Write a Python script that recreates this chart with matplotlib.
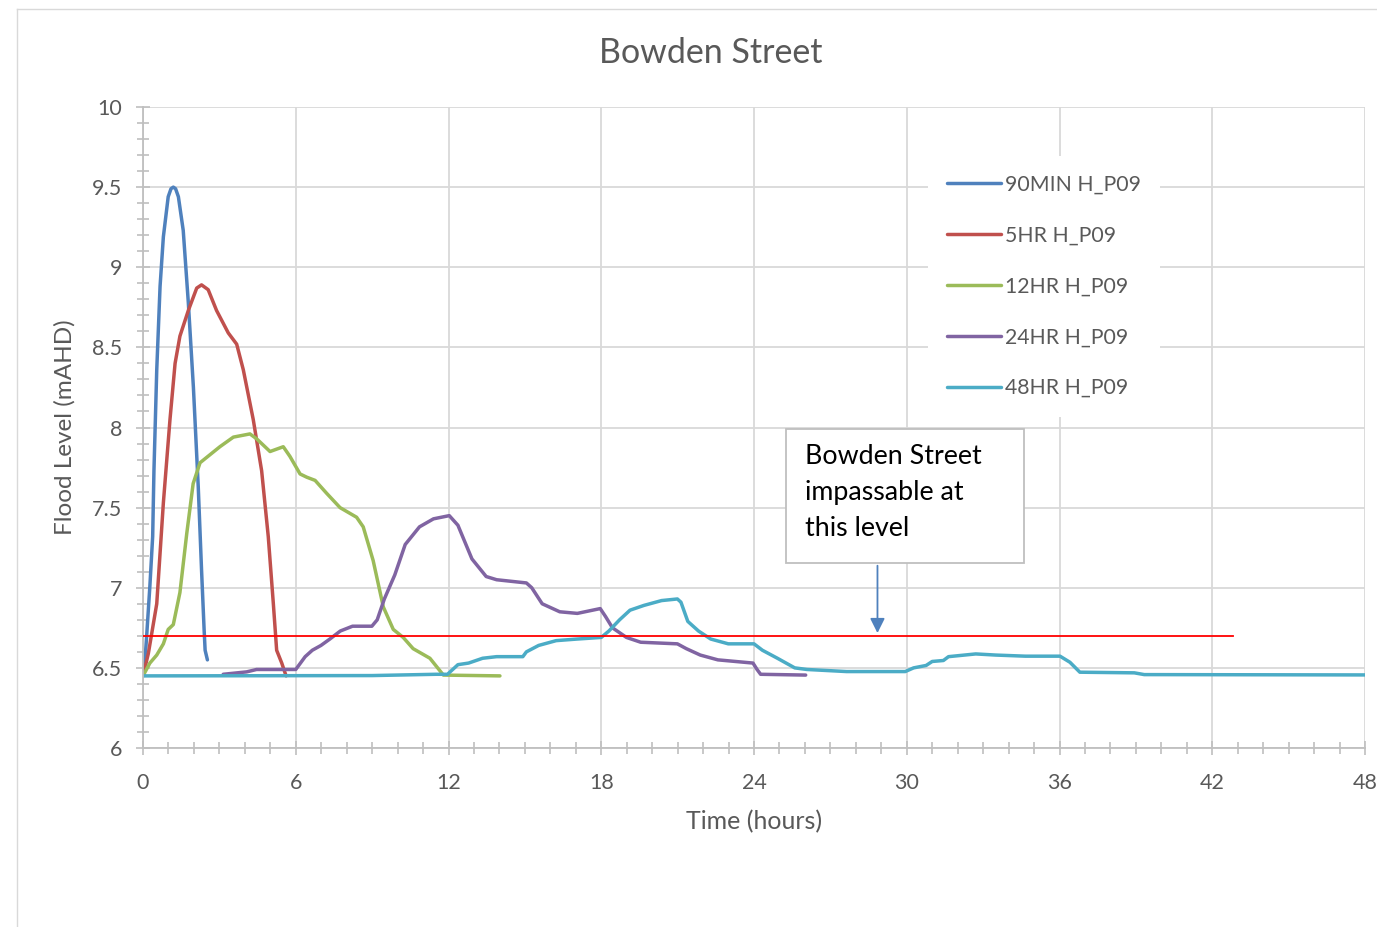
import matplotlib
matplotlib.use("Agg")
import matplotlib.pyplot as plt
from matplotlib.ticker import MultipleLocator, FuncFormatter
from matplotlib.patches import Rectangle
from matplotlib.lines import Line2D

plt.rcParams['font.family'] = ['Lato', 'DejaVu Sans']

# --- data (time in hours, level in mAHD) ---
t_90min = [0, 0.04, 0.14, 0.27, 0.38, 0.43, 0.54, 0.67, 0.80, 0.99, 1.10, 1.19, 1.28, 1.39,
           1.58, 1.78, 1.98, 2.17, 2.30, 2.40, 2.44, 2.53]
h_90min = [6.45, 6.46, 6.69, 7.01, 7.32, 7.73, 8.36, 8.88, 9.19, 9.44, 9.49, 9.50, 9.49, 9.44,
           9.23, 8.78, 8.25, 7.63, 7.11, 6.74, 6.61, 6.55]

t_5hr = [0, 0.21, 0.54, 0.80, 1.06, 1.26, 1.45, 1.78, 2.11, 2.30, 2.56, 2.89, 3.35, 3.68,
         3.94, 4.33, 4.66, 4.92, 5.12, 5.25, 5.45, 5.62]
h_5hr = [6.45, 6.59, 6.90, 7.53, 8.05, 8.40, 8.57, 8.73, 8.87, 8.89, 8.86, 8.73, 8.59, 8.52,
         8.36, 8.05, 7.73, 7.32, 6.90, 6.61, 6.53, 6.45]

t_12hr = [0, 0.27, 0.54, 0.80, 0.99, 1.19, 1.45, 1.72, 1.97, 2.24, 2.63, 3.02, 3.55, 4.20,
          4.46, 4.99, 5.51, 5.77, 6.17, 6.43, 6.76, 7.21, 7.74, 8.39, 8.65, 9.04, 9.44,
          9.83, 10.22, 10.61, 11.27, 11.80, 14.02]
h_12hr = [6.45, 6.53, 6.58, 6.65, 6.74, 6.77, 6.97, 7.34, 7.65, 7.78, 7.83, 7.88, 7.94, 7.96,
          7.93, 7.85, 7.88, 7.82, 7.71, 7.69, 7.67, 7.59, 7.50, 7.44, 7.38, 7.17, 6.88,
          6.74, 6.69, 6.62, 6.56, 6.455, 6.45]

t_24hr = [3.15, 4.07, 4.46, 6.0, 6.37, 6.65, 6.99, 7.34, 7.75, 8.23, 8.99, 9.20, 9.48, 9.89,
          10.30, 10.86, 11.41, 12.03, 12.37, 12.92, 13.48, 13.89, 15.06, 15.27, 15.68, 16.37,
          17.06, 17.96, 18.17, 18.44, 18.99, 19.55, 20.99, 21.34, 21.89, 22.58, 23.27, 23.96,
          24.12, 24.26, 26.03]
h_24hr = [6.46, 6.475, 6.49, 6.49, 6.57, 6.61, 6.64, 6.68, 6.73, 6.76, 6.76, 6.80, 6.93, 7.08,
          7.27, 7.38, 7.43, 7.45, 7.39, 7.18, 7.07, 7.05, 7.03, 7.00, 6.90, 6.85,
          6.84, 6.87, 6.82, 6.75, 6.69, 6.66, 6.65, 6.62, 6.58, 6.55, 6.54, 6.53,
          6.49, 6.46, 6.455]

t_48hr = [0, 9.0, 11.5, 11.96, 12.37, 12.79, 13.34, 13.89, 14.92, 15.06, 15.54, 16.23, 17.06,
          18.0, 18.3, 18.72, 19.13, 19.68, 20.37, 20.99, 21.13, 21.40, 21.82, 22.30, 22.99,
          24.0, 24.33, 24.92, 25.6, 26.08, 27.64, 29.94, 30.27, 30.76, 31.0, 31.44, 31.64,
          32.71, 33.49, 34.66, 36.02, 36.41, 36.80, 38.94, 39.33, 48.0]
h_48hr = [6.45, 6.452, 6.46, 6.46, 6.52, 6.53, 6.56, 6.57, 6.57, 6.60, 6.64, 6.67, 6.68,
          6.69, 6.73, 6.80, 6.86, 6.89, 6.92, 6.93, 6.91, 6.79, 6.73, 6.68, 6.65,
          6.65, 6.61, 6.56, 6.50, 6.49, 6.477, 6.477, 6.50, 6.515, 6.54, 6.546, 6.57,
          6.587, 6.58, 6.573, 6.573, 6.535, 6.473, 6.469, 6.458, 6.456]

impassable_t = [0, 42.8]
impassable_h = [6.7, 6.7]

series = [
    ("90MIN H_P09", t_90min, h_90min, "#4F81BD"),
    ("5HR H_P09", t_5hr, h_5hr, "#C0504D"),
    ("12HR H_P09", t_12hr, h_12hr, "#9BBB59"),
    ("24HR H_P09", t_24hr, h_24hr, "#8064A2"),
    ("48HR H_P09", t_48hr, h_48hr, "#4BACC6"),
]

grey_txt = "#595959"
grid_col = "#d9d9d9"

fig = plt.figure(figsize=(13.77, 9.27), dpi=100)
ax = fig.add_axes([143 / 1377, 1 - 748 / 927, 1222 / 1377, 641 / 927])

# outer chart border
fig.add_artist(Line2D([17 / 1377, 17 / 1377], [0, 1 - 9 / 927], transform=fig.transFigure,
                      color="#d9d9d9", lw=1))
fig.add_artist(Line2D([17 / 1377, 1], [1 - 9 / 927, 1 - 9 / 927], transform=fig.transFigure,
                      color="#d9d9d9", lw=1))

for name, t, h, c in series:
    ax.plot(t, h, color=c, lw=2.5, label=name, solid_capstyle='round', solid_joinstyle='round')

ax.plot(impassable_t, impassable_h, color="#FF0000", lw=1.3, zorder=3)

ax.set_xlim(0, 48)
ax.set_ylim(6, 10)
ax.xaxis.set_major_locator(MultipleLocator(6))
ax.xaxis.set_minor_locator(MultipleLocator(1))
ax.yaxis.set_major_locator(MultipleLocator(0.5))
ax.yaxis.set_minor_locator(MultipleLocator(0.1))
ax.yaxis.set_major_formatter(FuncFormatter(lambda v, p: f"{v:g}"))

ax.grid(True, which='major', color=grid_col, lw=1.3)
ax.set_axisbelow(True)
for s in ['top', 'right']:
    ax.spines[s].set_visible(False)
for s in ['left', 'bottom']:
    ax.spines[s].set_color("#bfbfbf")
    ax.spines[s].set_linewidth(1.3)

ax.tick_params(which='both', direction='inout', color="#bfbfbf", width=1.2, labelcolor=grey_txt,
               labelsize=15.5)
ax.tick_params(which='major', length=10)
ax.tick_params(which='minor', length=9)
ax.tick_params(axis='x', pad=13)
ax.tick_params(axis='y', pad=10)

ax.set_xlabel("Time (hours)", fontsize=18, color=grey_txt, labelpad=12)
ax.set_ylabel("Flood Level (mAHD)", fontsize=17.5, color=grey_txt, labelpad=12)
fig.text(711 / 1377, 1 - 53 / 927, "Bowden Street", ha='center', va='center', fontsize=24.5,
         color=grey_txt)

leg = ax.legend(loc='upper left', bbox_to_anchor=(0.642, 0.924), frameon=True, fontsize=15.3,
                handlelength=2.55, handletextpad=0.2, labelspacing=1.45, borderpad=0.9,
                borderaxespad=0)
leg.get_frame().set_facecolor('white')
leg.get_frame().set_edgecolor('none')
leg.get_frame().set_alpha(1)
leg.get_frame().set_boxstyle('square', pad=0)
for txt in leg.get_texts():
    txt.set_color(grey_txt)

# annotation box and arrow
ax.add_patch(Rectangle((25.26, 7.155), 9.34, 0.835, facecolor='white', edgecolor="#bfbfbf",
                       lw=1.3, zorder=4))
ax.text(26.0, 7.9, "Bowden Street\nimpassable at\nthis level", fontsize=19.3, color='black',
        va='top', ha='left', linespacing=1.55, zorder=5)
ax.annotate("", xy=(28.85, 6.7), xytext=(28.85, 7.155),
            arrowprops=dict(arrowstyle='-|>', color="#4F81BD", lw=1.3, mutation_scale=22),
            zorder=4)

fig.savefig("out.png", dpi=100, facecolor='white')
